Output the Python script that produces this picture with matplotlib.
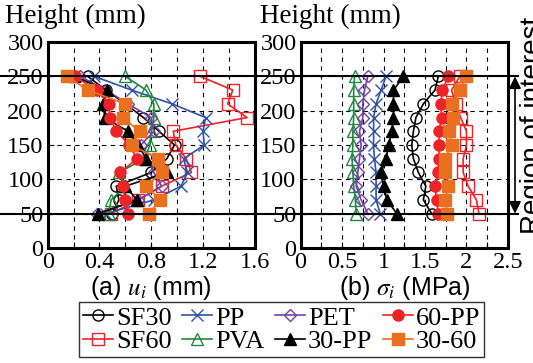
import matplotlib
matplotlib.use('Agg')
import matplotlib.pyplot as plt
import matplotlib.transforms as mtransforms
from matplotlib.lines import Line2D
from matplotlib.ticker import MultipleLocator

plt.rcParams['font.family'] = ['Liberation Serif', 'DejaVu Serif']
plt.rcParams['mathtext.fontset'] = 'stix'

# heights of the measuring points (mm)
height = [50, 70, 90, 110, 130, 150, 170, 190, 210, 230, 250]

# (a) displacement u_i (mm)
u_sf30 = [0.50, 0.55, 0.53, 0.80, 0.92, 0.98, 0.86, 0.74, 0.60, 0.45, 0.31]
u_sf60 = [0.49, 0.70, 0.88, 1.11, 1.07, 0.99, 0.97, 1.54, 1.39, 1.43, 1.18]
u_pp = [0.45, 0.82, 1.03, 1.08, 1.05, 1.21, 1.20, 1.22, 0.96, 0.65, 0.36]
u_pva = [0.47, 0.49, 0.60, 0.55, 0.75, 0.79, 0.80, 0.82, 0.82, 0.76, 0.60]
u_pet = [0.38, 0.70, 0.88, 0.82, 0.78, 0.72, 0.82, 0.80, 0.62, 0.45, 0.25]
u_30pp = [0.39, 0.69, 0.60, 0.92, 0.76, 0.70, 0.62, 0.44, 0.43, 0.46, 0.20]
u_60pp = [0.62, 0.60, 0.58, 0.56, 0.69, 0.63, 0.53, 0.48, 0.47, 0.38, 0.21]
u_3060 = [0.78, 0.87, 0.76, 0.88, 0.85, 0.65, 0.71, 0.58, 0.60, 0.31, 0.15]

# (b) stress sigma_i (MPa)
s_sf30 = [1.58, 1.48, 1.51, 1.42, 1.36, 1.34, 1.36, 1.39, 1.48, 1.62, 1.66]
s_sf60 = [2.15, 2.12, 2.02, 1.96, 1.96, 2.00, 2.00, 1.93, 1.87, 1.82, 1.92]
s_pp = [0.96, 0.91, 0.91, 0.91, 0.89, 0.88, 0.88, 0.88, 0.91, 0.97, 1.03]
s_pva = [0.67, 0.66, 0.64, 0.63, 0.62, 0.63, 0.63, 0.64, 0.64, 0.64, 0.65]
s_pet = [0.81, 0.73, 0.67, 0.69, 0.71, 0.73, 0.71, 0.75, 0.75, 0.77, 0.81]
s_30pp = [1.16, 1.04, 1.00, 0.97, 1.03, 1.06, 1.10, 1.12, 1.12, 1.12, 1.24]
s_60pp = [1.66, 1.64, 1.62, 1.66, 1.67, 1.67, 1.67, 1.70, 1.69, 1.71, 1.78]
s_3060 = [1.77, 1.74, 1.78, 1.74, 1.74, 1.82, 1.79, 1.84, 1.83, 1.92, 2.00]

labels = ['SF30', 'SF60', 'PP', 'PVA', 'PET', '30-PP', '60-PP', '30-60']
u_data = [u_sf30, u_sf60, u_pp, u_pva, u_pet, u_30pp, u_60pp, u_3060]
s_data = [s_sf30, s_sf60, s_pp, s_pva, s_pet, s_30pp, s_60pp, s_3060]

RED = '#ec2327'
styles = {
    'SF30': dict(color='black', marker='o', mfc='none'),
    'SF60': dict(color=RED, marker='s', mfc='none'),
    'PP': dict(color='#2f52a6', marker='x', mfc='none'),
    'PVA': dict(color='#1f8a3f', marker='^', mfc='none'),
    'PET': dict(color='#7340a6', marker='D', mfc='none', ms=6.5),
    '30-PP': dict(color='black', marker='^', mfc='black'),
    '60-PP': dict(color=RED, marker='o', mfc=RED),
    '30-60': dict(color='#e9701e', marker='s', mfc='#e9701e'),
}

fig = plt.figure(figsize=(5.33, 3.63), dpi=100)
ax1 = fig.add_axes([0.0895, 0.317, 0.3885, 0.567])
ax2 = fig.add_axes([0.564, 0.317, 0.389, 0.567])


def setup(ax, xmax, ticks, minor, xlabel):
    ax.set_xlim(0, xmax)
    ax.set_ylim(0, 300)
    ax.set_xticks(ticks)
    ax.set_xticklabels(['%g' % t for t in ticks])
    ax.xaxis.set_minor_locator(MultipleLocator(minor))
    ax.yaxis.set_major_locator(MultipleLocator(50))
    ax.grid(True, which='both', axis='x', color='black', ls=(0, (4, 4)), lw=0.8)
    ax.grid(True, which='major', axis='y', color='black', ls=(0, (4, 4)), lw=0.8)
    ax.tick_params(which='both', direction='in', length=4, width=0.8,
                   labelsize=17.5, pad=3)
    for sp in ax.spines.values():
        sp.set_linewidth(2.2)
    ax.set_xlabel(xlabel, family='Liberation Sans', fontsize=18, labelpad=1)
    ax.set_axisbelow(True)


setup(ax1, 1.6, [0, 0.4, 0.8, 1.2, 1.6], 0.2, '(a) $u_i$ (mm)')
setup(ax2, 2.5, [0, 0.5, 1, 1.5, 2, 2.5], 0.25, '(b) $\\sigma_i$ (MPa)')

handles = []
for lab, u, s in zip(labels, u_data, s_data):
    st = dict(ms=8, lw=1.2, mew=1.0)
    st.update(styles[lab])
    h, = ax1.plot(u, height, label=lab, **st)
    ax2.plot(s, height, **st)
    handles.append(h)

fig.text(5 / 533, 1 - 16 / 363, 'Height (mm)', fontsize=19.5, va='center', ha='left')
fig.text(260 / 533, 1 - 16 / 363, 'Height (mm)', fontsize=19.5, va='center', ha='left')

# region of interest lines across the whole figure
trans = mtransforms.blended_transform_factory(fig.transFigure, ax1.transData)
for yv in [50, 250]:
    fig.add_artist(Line2D([0, 0.972], [yv, yv], transform=trans, color='black', lw=1.5))

ax2.annotate('', xy=(1.034, 250), xytext=(1.034, 50),
             xycoords=('axes fraction', 'data'), textcoords=('axes fraction', 'data'),
             arrowprops=dict(arrowstyle='<|-|>', color='black', lw=1.2,
                             shrinkA=0, shrinkB=0, mutation_scale=18),
             annotation_clip=False)
# cut off at the right edge, as in the original
fig.text(520 / 533, 1 - 125 / 363, 'Region of interest', rotation=90,
         family='Liberation Sans', fontsize=20, ha='left', va='center')

leg = fig.legend(handles, labels,
                 ncol=4, loc='center', bbox_to_anchor=(0.528, 0.092),
                 fontsize=19, frameon=True, fancybox=False, edgecolor='black',
                 handlelength=1.15, handletextpad=0.1, columnspacing=0.4,
                 labelspacing=0.0, borderpad=0.15, borderaxespad=0)
leg.get_frame().set_linewidth(1.0)

fig.savefig('out.png', dpi=100)
